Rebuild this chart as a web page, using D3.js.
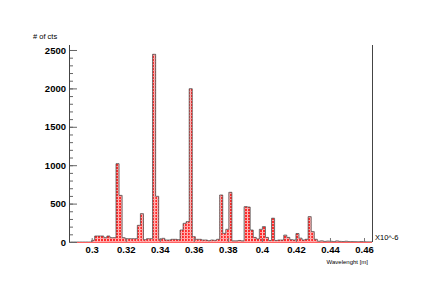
<!DOCTYPE html>
<html>
<head>
<meta charset="utf-8">
<script src="https://cdn.jsdelivr.net/npm/d3@7"></script>
<style>
  body { margin: 0; background: #fff; }
  text { font-family: "Liberation Sans", Arial, sans-serif; }
</style>
</head>
<body>
<div id="chart"></div>
<script>
// histogram data
var xMin = 0.28666, xMax = 0.4647;   // axis range
var binStart = 0.2874, binWidth = 0.001792;
var counts = [
  0, 0, 0, 0, 0, 0, 0, 22, 78, 78,
  78, 56, 78, 56, 56, 1020, 607, 56, 43, 43,
  43, 43, 217, 369, 30, 43, 43, 2444, 595, 35,
  48, 26, 26, 35, 35, 30, 156, 243, 265, 1996,
  69, 35, 35, 26, 26, 17, 26, 22, 35, 612,
  113, 165, 647, 15, 15, 20, 15, 460, 455, 156,
  60, 40, 165, 200, 60, 20, 310, 20, 26, 26,
  90, 60, 30, 26, 110, 50, 26, 35, 330, 135,
  35, 10, 15, 8, 12, 10, 5, 14, 8, 6,
  10, 5, 5, 4, 3, 5, 3, 2, 2
];
var xTicks = [0.3, 0.32, 0.34, 0.36, 0.38, 0.4, 0.42, 0.44, 0.46];
var yTicks = [0, 500, 1000, 1500, 2000, 2500];
var yMax = 2565;

var width = 436, height = 307;
// note: "top" is taken by window.top, so use prefixed names
var padL = 69, padR = 372, padT = 45, padB = 242;

var svg = d3.select("#chart").append("svg")
  .attr("width", width)
  .attr("height", height);

// hatch-ish fill like the ROOT one
var defs = svg.append("defs");
var pat = defs.append("pattern")
  .attr("id", "hatch")
  .attr("patternUnits", "userSpaceOnUse")
  .attr("width", 3).attr("height", 3);
pat.append("rect").attr("width", 3).attr("height", 3).attr("fill", "#ff2a2a");
pat.append("rect").attr("x", 1).attr("width", 1).attr("height", 3).attr("fill", "#ffb8b8");
pat.append("rect").attr("y", 1).attr("width", 3).attr("height", 1).attr("fill", "#ffa0a0");

var x = d3.scaleLinear().domain([xMin, xMax]).range([padL, padR]);
var y = d3.scaleLinear().domain([0, yMax]).range([padB, padT]);

var bins = counts.map(function(c, i) {
  return { x0: binStart + i * binWidth, x1: binStart + (i + 1) * binWidth, v: c };
});

// bars
svg.append("g")
  .selectAll("rect")
  .data(bins.filter(function(d) { return d.v > 0; }))
  .join("rect")
  .attr("x", function(d) { return x(d.x0); })
  .attr("y", function(d) { return y(d.v); })
  .attr("width", function(d) { return x(d.x1) - x(d.x0); })
  .attr("height", function(d) { return y(0) - y(d.v); })
  .attr("fill", "url(#hatch)");

// outline as a step line
var pts = [[x(bins[0].x0), y(0)]];
bins.forEach(function(d) {
  pts.push([x(d.x0), y(d.v)]);
  pts.push([x(d.x1), y(d.v)]);
});
pts.push([x(bins[bins.length - 1].x1), y(0)]);
svg.append("path")
  .attr("d", d3.line()(pts))
  .attr("fill", "none")
  .attr("stroke", "#4a4a4a")
  .attr("stroke-width", 0.75);

// red baseline
svg.append("line")
  .attr("x1", padL).attr("x2", padR)
  .attr("y1", padB + 0.5).attr("y2", padB + 0.5)
  .attr("stroke", "#ff6060").attr("stroke-width", 1.2);

// y axis
var yMinor = d3.range(0, 2501, 100);
svg.append("g")
  .attr("transform", "translate(" + padL + ",0)")
  .call(d3.axisLeft(y).tickValues(yMinor).tickSize(-4).tickFormat(""))
  .call(function(g) { g.select(".domain").remove(); g.selectAll("line").attr("stroke", "#666"); });
svg.append("g")
  .attr("transform", "translate(" + padL + ",0)")
  .call(d3.axisLeft(y).tickValues(yTicks).tickSize(-8).tickPadding(3).tickFormat(d3.format("d")))
  .call(function(g) {
    g.select(".domain").remove();
    g.selectAll("line").attr("stroke", "#666");
    g.selectAll("text").attr("font-size", "9.5px").attr("font-weight", "bold").attr("fill", "#000");
  });
svg.append("line")
  .attr("x1", padL + 0.5).attr("x2", padL + 0.5)
  .attr("y1", padT).attr("y2", padB)
  .attr("stroke", "#444");

// right frame line
svg.append("line")
  .attr("x1", padR + 0.5).attr("x2", padR + 0.5)
  .attr("y1", padT).attr("y2", padB)
  .attr("stroke", "#444");

// x axis (only major ticks show in the original)
svg.append("g")
  .attr("transform", "translate(0," + padB + ")")
  .call(d3.axisBottom(x).tickValues(xTicks).tickSize(-4).tickPadding(4).tickFormat(d3.format("")))
  .call(function(g) {
    g.select(".domain").remove();
    g.selectAll("line").attr("stroke", "#777");
    g.selectAll("text").attr("font-size", "9.5px").attr("font-weight", "bold").attr("fill", "#000");
  });

// titles
svg.append("text")
  .attr("x", 33).attr("y", 39)
  .attr("font-size", "7.5px")
  .text("# of cts");
svg.append("text")
  .attr("x", 368).attr("y", 264)
  .attr("text-anchor", "end")
  .attr("font-size", "6px")
  .text("Wavelenght [m]");
svg.append("text")
  .attr("x", 375).attr("y", 240)
  .attr("font-size", "7.5px")
  .text("X10^-6");
</script>
</body>
</html>
